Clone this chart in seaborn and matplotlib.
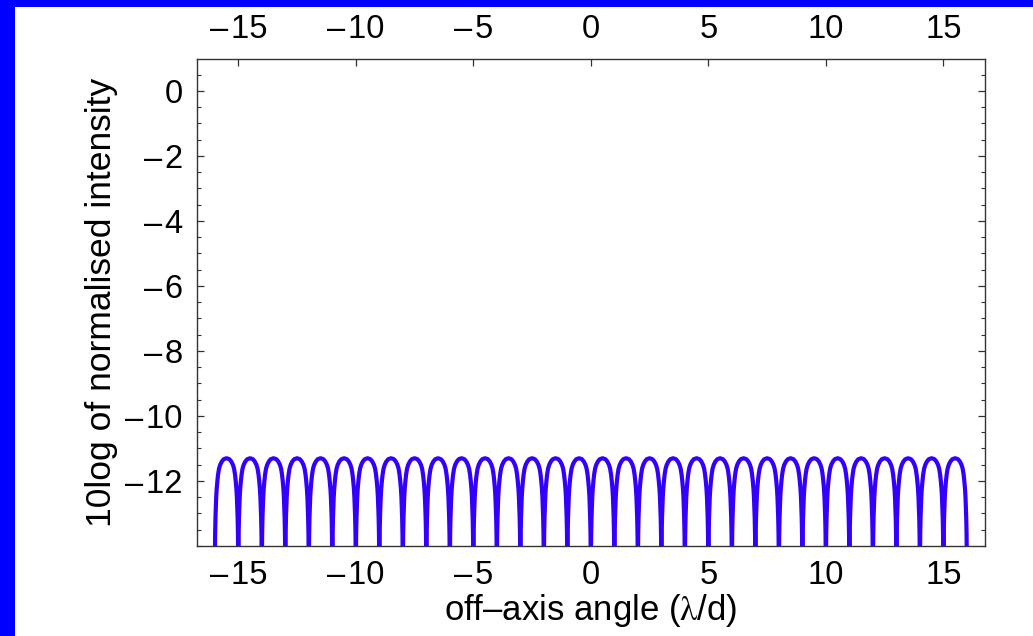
import numpy as np
import pandas as pd
import matplotlib
matplotlib.use("Agg")
import matplotlib.pyplot as plt
from matplotlib.ticker import MultipleLocator, FuncFormatter
from matplotlib.patches import Rectangle
import seaborn as sns

# ---- data ----
# centres of the arches (lambda/d)
arch_centers = [-15.5, -14.5, -13.5, -12.5, -11.5, -10.5, -9.5, -8.5, -7.5, -6.5,
                -5.5, -4.5, -3.5, -2.5, -1.5, -0.5, 0.5, 1.5, 2.5, 3.5, 4.5, 5.5,
                6.5, 7.5, 8.5, 9.5, 10.5, 11.5, 12.5, 13.5, 14.5, 15.5]
# profile of one arch: offset from its centre and level in dB
arch_offset = [-0.5, -0.485, -0.47, -0.455, -0.44, -0.42, -0.39, -0.36, -0.32,
               -0.27, -0.2, -0.12, 0.0, 0.12, 0.2, 0.27, 0.32, 0.36, 0.39, 0.42,
               0.44, 0.455, 0.47, 0.485, 0.5]
arch_db = [-14.6, -13.6, -13.1, -12.8, -12.5, -12.25, -12.0, -11.8, -11.62,
           -11.5, -11.4, -11.33, -11.3, -11.33, -11.4, -11.5, -11.62, -11.8,
           -12.0, -12.25, -12.5, -12.8, -13.1, -13.6, -14.6]

x_ticks = [-15, -10, -5, 0, 5, 10, 15]
y_ticks = [0, -2, -4, -6, -8, -10, -12]

xs, ys = [], []
for c in arch_centers:
    for o, d in zip(arch_offset, arch_db):
        xs.append(c + o)
        ys.append(d)
df = pd.DataFrame({"angle": xs, "db": ys})

sns.set_theme(style="white")
plt.rcParams["font.family"] = ["Liberation Sans", "DejaVu Sans"]
plt.rcParams["mathtext.fontset"] = "stix"
plt.rcParams["text.color"] = "black"
plt.rcParams["axes.labelcolor"] = "black"
plt.rcParams["xtick.color"] = "black"
plt.rcParams["ytick.color"] = "black"

fig = plt.figure(figsize=(10.33, 6.36), dpi=100, facecolor="#0000ff")
bg = fig.add_axes([15 / 1033, 0, 1 - 15 / 1033, 1 - 7 / 636], zorder=-10)
bg.set_axis_off()
bg.add_patch(Rectangle((0, 0), 1, 1, transform=bg.transAxes, facecolor="white",
                       edgecolor="none"))

ax = fig.add_axes([196.7 / 1033, 1 - 546 / 636, (985 - 196.7) / 1033, (546 - 59.3) / 636])
ax.set_facecolor("white")

sns.lineplot(data=df, x="angle", y="db", ax=ax, sort=False, estimator=None,
             color="#3300ff", linewidth=3.0)

ax.set_xlim(-16.77, 16.77)
ax.set_ylim(-14.0, 0.97)
ax.set_xticks(x_ticks)
ax.set_yticks(y_ticks)
ax.yaxis.set_minor_locator(MultipleLocator(0.5))


def fmt(v, pos):
    v = int(round(v))
    return ("\u2013\u200a" + str(-v)) if v < 0 else str(v)


ax.xaxis.set_major_formatter(FuncFormatter(fmt))
ax.yaxis.set_major_formatter(FuncFormatter(fmt))

for s in ax.spines.values():
    s.set_color("#333333")
    s.set_linewidth(1.0)
    s.set_visible(True)

ax.tick_params(axis="both", which="major", direction="in", length=5, width=0.9,
               color="#333333", labelcolor="black", labelsize=23.5, pad=10,
               top=True, right=True, labeltop=True, bottom=True, left=True)
ax.tick_params(axis="y", which="minor", direction="in", length=3, width=0.8,
               color="#333333", left=True, right=True)

ax.set_xlabel("off\u2013axis angle ($\\mathrm{\\lambda}$/d)", fontsize=25, labelpad=1,
              color="black")
ax.set_ylabel("10log of normalised intensity", fontsize=25.5, labelpad=5, color="black")

fig.savefig("out.png", dpi=100, facecolor=fig.get_facecolor())
